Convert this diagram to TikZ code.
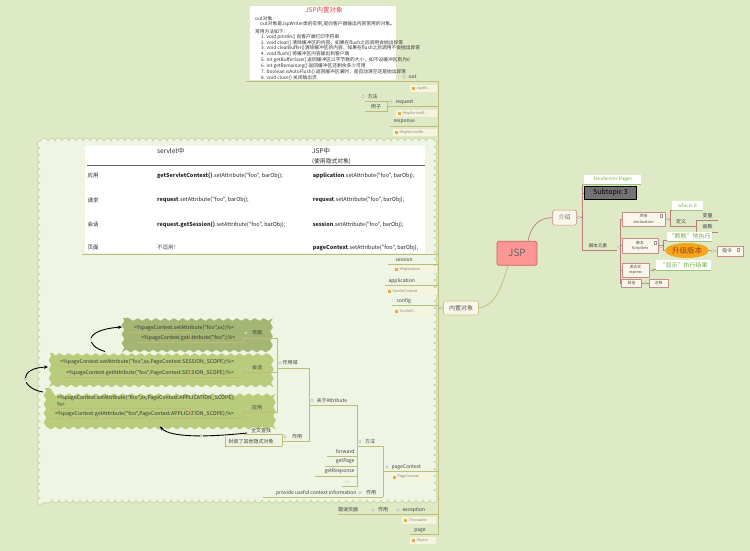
\documentclass[tikz,border=0pt]{standalone}
\usepackage{fontspec}
\setmainfont{Noto Sans CJK SC}[Ligatures=TeXOff]
\newfontfamily\serifx{Liberation Serif}
\usetikzlibrary{decorations.pathmorphing,arrows.meta,shapes.geometric,calc}
\newcommand\fs[1]{\fontsize{#1}{#1}\selectfont}
\definecolor{bg}{RGB}{222,233,198}
\definecolor{cloudfill}{RGB}{238,245,226}
\definecolor{cloudline}{RGB}{200,214,172}
\definecolor{conn}{RGB}{190,188,120}
\definecolor{subfill}{RGB}{245,245,222}
\definecolor{icon}{RGB}{225,175,70}
\definecolor{pinkb}{RGB}{200,140,140}
\definecolor{boxfill}{RGB}{250,246,234}
\definecolor{greenT}{RGB}{110,175,60}
\definecolor{waveA}{RGB}{163,182,115}
\definecolor{waveB}{RGB}{185,204,124}
\definecolor{jspfill}{RGB}{255,150,150}
\definecolor{jspline}{RGB}{205,95,95}
\definecolor{brownc}{RGB}{185,125,120}
\definecolor{orangef}{RGB}{248,165,30}
\definecolor{upgtxt}{RGB}{150,70,20}
\definecolor{redT}{RGB}{230,60,60}
\newcommand\subb[5]{%
 \fill[subfill] (#2,#3) rectangle (#4,#3+7);
 \fill[icon] (#2+1.5,#3+2) rectangle (#2+4.5,#3+5);
 \node[anchor=west,font=\fs{3.6},text=black!50,inner sep=0] (#1) at (#2+6.5,#3+3.5) {#5};}
\newcommand\dotc[2]{\draw[draw=black!35,fill=white,line width=0.3pt] (#1,#2) circle[radius=1.4pt];}
\newcommand\wavebox[5]{\path[fill=#5,decorate,decoration={snake,amplitude=1.3pt,segment length=9pt}] (#1,#2) rectangle (#3,#4);}
\begin{document}
\begin{tikzpicture}[x=1pt,y=-1pt,
 lbl/.style={font=\fs{5},text=black!75,inner sep=0.3pt},
 clbl/.style={font=\fs{5},text=black!75,inner sep=0.3pt},
 cn/.style={draw=conn,line width=0.7pt},
 br/.style={draw=brownc,line width=0.6pt},
 tline/.style={font=\fs{4.75},text=black!80,anchor=west,inner sep=0},
 ttxt/.style={font=\fs{5.5},text=black!85,anchor=west,inner sep=0},
 thd/.style={font=\fs{6.5},text=black!85,anchor=west,inner sep=0},
 wtxt/.style={font=\fs{5.2},text=black!80,anchor=west,inner sep=0},
 pbox/.style={draw=pinkb,fill=boxfill,line width=0.6pt,font=\fontsize{3.8}{5.2}\selectfont,align=center,inner sep=0.3pt,text=black!70},
 gtxt/.style={fill=white,text=greenT,inner sep=0.6pt,font=\fs{6}},
 arr/.style={-{Stealth[length=4pt,width=3.5pt]},line width=0.9pt,black},
 abc/.style={font=\fs{4},text=black!50,inner sep=0.3pt}]
\fill[bg] (0,0) rectangle (750,551);
\useasboundingbox (0,0) rectangle (750,551);

% ---------- top white box ----------
\fill[white] (250,6) rectangle (396,80);
\node[font=\fs{6.5},text=redT,inner sep=0] (title) at (324,10.5) {JSP内置对象};
\node[tline] (o1) at (255,18.3) {out对象：};
\node[tline] (o2) at (260,24.3) {out对象是JspWriter类的实例,是向客户端输出内容常用的对象。};
\node[tline] (o3) at (255,31.7) {常用方法如下：};
\node[tline] (i1) at (261,37.3) {1.\hspace{1.5pt}void println() 向客户端打印字符串};
\node[tline] (i2) at (261,42.7) {2.\hspace{1.5pt}void clear() 清除缓冲区的内容，如果在flush之后调用会抛出异常};
\node[tline] (i3) at (261,48.3) {3.\hspace{1.5pt}void clearBuffer()清除缓冲区的内容，如果在flush之后调用不会抛出异常};
\node[tline] (i4) at (261,54) {4.\hspace{1.5pt}void flush() 将缓冲区内容输出到客户端};
\node[tline] (i5) at (261,60) {5.\hspace{1.5pt}int getBufferSize() 返回缓冲区以字节数的大小，如不设缓冲区则为0};
\node[tline] (i6) at (261,65.7) {6.\hspace{1.5pt}int getRemaining() 返回缓冲区还剩余多少可用};
\node[tline] (i7) at (261,71.7) {7.\hspace{1.5pt}boolean isAutoFlush() 返回缓冲区满时，是自动清空还是抛出异常};
\node[tline] (i8) at (261,77.6) {8.\hspace{1.5pt}void close() 关闭输出流};

% ---------- cloud ----------
\path[fill=cloudfill,draw=cloudline,line width=0.8pt,decorate,decoration={bumps,segment length=14pt,amplitude=3pt,mirror}] (40,141) rectangle (434,500);

% spine
\draw[cn] (246,81) -- (438,81);
\draw[cn] (438,81) -- (438,534.5);

% out
\dotc{404}{76.5}
\node[lbl,anchor=west] (out) at (408,76.5) {out};
\subb{outs}{410}{85}{437}{JspWr...}
% request
\draw[cn] (387,106.5) -- (438,106.5);
\dotc{391}{102}
\node[lbl,anchor=west] (req) at (395,102) {request};
\subb{reqs}{396}{109.5}{437}{HttpServletR...}
\draw[cn] (365,101.8) -- (389.5,101.8);
\draw[cn] (365,111.5) -- (387,111.5) -- (387,101.8);
\node[clbl] (lizi) at (376,106.5) {例子};
\dotc{363}{96.5}
\node[clbl,anchor=west] (ff1) at (367,96.5) {方法};
% response
\draw[cn] (390,126.5) -- (438,126.5);
\node[lbl,anchor=west] (resp) at (393,121.5) {response};
\subb{resps}{393}{129}{437}{HttpServletRe...}

% ---------- table ----------
\fill[white] (85,146) rectangle (425,253);
\draw[cn] (82,254) -- (438,254);
\draw[black!60,line width=0.9pt] (87,165.7) -- (424.5,165.7);
\node[thd] (h1) at (157,151) {servlet中};
\node[thd] (h2) at (312,151) {JSP中};
\node[thd,font=\fs{5.8}] (h3) at (312,161.5) {(使用隐式对象)};
\node[ttxt] (r1) at (87.5,175.5) {应用};
\node[ttxt] (r2) at (87.5,200.4) {请求};
\node[ttxt] (r3) at (87.5,224.6) {会话};
\node[ttxt] (r4) at (87.5,247.5) {页面};
\node[ttxt] (s1) at (157,175.5) {\bfseries getServletContext()\mdseries.setAttribute("foo", barObj);};
\node[ttxt] (s2) at (157,200.4) {\bfseries request\mdseries.setAttribute("foo", barObj);};
\node[ttxt] (s3) at (157,224.6) {\bfseries request.getSession()\mdseries.setAttribute("foo", barObj);};
\node[ttxt,text=black!70] (s4) at (157,247.5) {不适用！};
\node[ttxt] (j1) at (312.6,175.5) {\bfseries application\mdseries.setAttribute("foo", barObj);};
\node[ttxt] (j2) at (312.6,200.4) {\bfseries request\mdseries.setAttribute("foo", barObj);};
\node[ttxt] (j3) at (312.6,224.6) {\bfseries session\mdseries.setAttribute("foo", barObj);};
\node[ttxt] (j4) at (312.6,247.5) {\bfseries pageContext\mdseries.setAttribute("foo", barObj);};

% session / application / config
\draw[cn] (388,264.5) -- (438,264.5);
\node[lbl,anchor=west] (sess) at (395,259.5) {session};
\subb{sesss}{393}{266}{437}{HttpSession}
\draw[cn] (385,285.5) -- (438,285.5);
\node[lbl,anchor=west] (appl) at (388,280.8) {application};
\subb{appls}{386}{287.5}{437}{ServletContext}
\draw[cn] (392,305.5) -- (438,305.5);
\node[lbl,anchor=west] (conf) at (396,301) {config};
\subb{confs}{393}{307.5}{430}{ServletC...}

% ---------- JSP centre ----------
\node[draw=conn!85,fill=boxfill,rounded corners=1.5pt,minimum width=35pt,minimum height=14pt,font=\fs{6},text=black!65,line width=0.6pt] (nzdx) at (461,308) {内置对象};
\draw[cn] (438,308) -- (nzdx.west);
\dotc{441}{308}
\node[draw=jspline,fill=jspfill,rounded corners=2pt,minimum width=40pt,minimum height=24pt,font=\fs{10},text=black!60,line width=0.7pt] (jsp) at (517,253.3) {JSP};
\node[draw=pinkb,fill=boxfill,rounded corners=1.5pt,minimum width=24pt,minimum height=15pt,font=\fs{6},text=black!55,line width=0.6pt] (js) at (564.7,217.6) {介绍};
\draw[cn] (nzdx.east) .. controls (496,306) and (502,285) .. ($(jsp.south)+(-9,0)$);
\draw[br,line width=0.7pt] ($(jsp.north)+(11,0)$) .. controls (531,226) and (538,218) .. (js.west);

% ---------- right subtree ----------
\draw[br] (js.east) -- (582,217.6);
\dotc{579}{217.6}
\draw[br] (582,184.5) -- (582,250) -- (617,250);
\draw[br] (582,193) -- (585,193);
\fill[white] (584,175) rectangle (641,184.5);
\draw[greenT!70,line width=0.6pt] (582,184.5) -- (641,184.5);
\node[text=greenT,font=\serifx\fs{5.5},inner sep=0] (jsp2) at (612.5,179.7) {JavaServer Pages};
\node[fill=black!55,draw=black,line width=0.8pt,minimum width=52pt,minimum height=13pt,font=\fs{7},text=black,inner sep=0] (sub3) at (610.5,192.8) {Subtopic 3};
\node[clbl,font=\fs{4.6}] (jbys) at (598,246) {脚本元素};
\draw[br] (620,219) -- (620,283);
\dotc{619}{247}
\node[pbox,minimum width=43pt,minimum height=14pt] (decl) at (643.5,219) {声明\\declaration};
\node[pbox,minimum width=36pt,minimum height=15pt] (scr) at (640,245.5) {脚本\\Scriptlets};
\node[pbox,minimum width=27pt,minimum height=14pt] (expr) at (635.5,270) {表达式\\express};
\node[pbox,minimum width=20pt,minimum height=8pt] (qt) at (631.5,283) {其他};
\node[pbox,minimum width=19pt,minimum height=8pt] (zs) at (658.5,283) {注释};
\draw[br] (620,219) -- (decl.west);
\draw[br] (620,245.5) -- (scr.west);
\draw[br] (620,270) -- (expr.west);
\draw[br] (620,283) -- (qt.west);
\draw[br] (qt.east) -- (zs.west);
\dotc{645}{283}
\draw[black!40,line width=0.25pt] (660.5,214.5) rectangle (662.5,217.5);
\draw[black!40,line width=0.25pt] (654.5,241) rectangle (656.5,244);
% declaration children
\draw[br] (decl.east) -- (670,219);
\draw[br] (670,210.5) -- (670,226) -- (696,226);
\draw[br] (670,210.5) -- (672,210.5);
\dotc{667}{219}
\node[gtxt,font=\serifx\fs{5.5},minimum width=31pt,minimum height=9pt] (who) at (687.5,205.8) {who is it};
\draw[greenT!70,line width=0.6pt] (672,210.5) -- (703,210.5);
\node[clbl] (dy) at (681,221.5) {定义};
\draw[br] (696,220) -- (696,232);
\draw[br] (696,220) -- (718,220);
\draw[br] (696,232) -- (718,232);
\node[clbl] (bl) at (707.5,215.5) {变量};
\node[clbl] (hs) at (707.5,227) {函数};
% scriptlets children
\draw[br] (scr.east) -- (663,245.5) -- (663,240.5) -- (667,240.5);
\draw[br] (663,245.5) -- (663,250.5) -- (665,250.5);
\dotc{661}{246.5}
\node[gtxt,minimum width=45pt,minimum height=9pt] (mm) at (689.5,236.3) {“默默”地执行};
\draw[greenT!70,line width=0.6pt] (667,240.8) -- (712,240.8);
\node[ellipse,fill=orangef,minimum width=44pt,minimum height=15pt,inner sep=0,font=\fs{7.5},text=upgtxt] (upg) at (687,250.5) {升级版本};
\node[pbox,minimum width=26pt,minimum height=10pt,font=\fs{5}] (zl) at (730,251) {指令\hspace{6pt}};
\draw[black!40,line width=0.25pt] (737.5,248.5) rectangle (739.5,251.5);
\draw[br] (upg.east) -- (zl.west);
\dotc{712.5}{251}
% expression child
\draw[br] (expr.east) -- (653,270) -- (653,269.5) -- (656,269.5);
\dotc{651}{270}
\node[gtxt,minimum width=55pt,minimum height=10pt] (xs) at (683.5,265) {“显示”执行结果};
\draw[greenT!70,line width=0.6pt] (656,270) -- (711,270);

% ---------- wave boxes ----------
\wavebox{123}{318}{274}{349}{waveA}
\wavebox{50}{353}{274}{385}{waveB}
\wavebox{45}{388}{274}{425}{waveB}
\node[wtxt] (p1) at (134,328) {<\%pageContext.setAttribute("foo",xx);\%>};
\node[wtxt] (p2) at (141,338) {<\%pageContext.getAttribute("foo");\%>};
\node[wtxt] (q1) at (60,362.5) {<\%pageContext.setAttribute("foo",xx,PageContext.SESSION\_SCOPE);\%>};
\node[wtxt] (q2) at (66,373) {<\%pageContext.getAttribute("foo",PageContext.SESSION\_SCOPE);\%>};
\node[wtxt] (u1) at (57,398) {<\%pageContext.setAttribute("foo",xx,PageContext.APPLICATION\_SCOPE);};
\node[wtxt] (u2) at (57,404.3) {\%>};
\node[wtxt] (u3) at (55,414) {<\%pageContext.getAttribute("foo",PageContext.APPLICATION\_SCOPE);\%>};
\begin{scope}[cn,line width=0.5pt]
\draw (130,332) -- (190,332) -- (190,342);
\draw (137,342) -- (243,342) -- (243,338) -- (277,338);
\draw (56,366.5) -- (190,366.5) -- (190,377);
\draw (62,377) -- (243,377) -- (243,372) -- (277,372);
\draw (52,408.5) -- (190,408.5) -- (190,418);
\draw (51,418) -- (243,418) -- (243,412.5) -- (277,412.5);
\end{scope}
\dotc{246}{333}
\node[clbl] (ym) at (257,333) {页面};
\dotc{246}{368}
\node[clbl] (hh) at (257,368) {会话};
\dotc{246}{408}
\node[clbl] (yy) at (257,408) {应用};
% arrows
\draw[arr] (105,351.5) .. controls (86,346) and (82,330) .. node[abc,fill=cloudfill,pos=0.45] (cc) {C} (122,327);
\draw[arr] (43,392) .. controls (20,388) and (18,368) .. node[abc,fill=cloudfill,pos=0.45] (bb) {B} (48,367);
\draw[arr] (247,433) .. controls (210,437) and (170,438) .. node[abc,fill=cloudfill,pos=0.42] (aa) {A} (160,426.5);

% ---------- pageContext branch ----------
\draw[cn] (277,338) -- (277,412.5);
\draw[cn] (277,368) -- (309,368);
\dotc{280}{363}
\node[clbl] (zyy) at (290,363) {作用域};
\draw[cn] (309,368) -- (309,441.7);
\dotc{312}{400.5}
\node[lbl,anchor=west] (gy) at (316,400.5) {关于Attribute};
\draw[cn] (309,405) -- (357,405);
\dotc{285}{436.7}
\node[clbl] (zy1) at (297,436.7) {作用};
\draw[cn] (282,441.7) -- (309,441.7);
\node[clbl] (qw) at (261,430.3) {全文查找};
\draw[cn] (244,434.5) -- (282,434.5) -- (282,446);
\node[clbl] (fz) at (251,441.3) {封装了其他隐式对象};
\draw[cn] (225,437) -- (225,446) -- (282,446);
\draw[cn] (357,405) -- (357,486.7);
\dotc{360}{441.7}
\node[clbl] (ff2) at (370,441.7) {方法};
\draw[cn] (357,446) -- (383,446);
\node[lbl,anchor=east] (fw) at (355,451.7) {forward};
\draw[cn] (327,456) -- (357,456);
\node[lbl,anchor=east] (gp) at (355,461.7) {getPage};
\draw[cn] (325,466) -- (357,466);
\node[lbl,anchor=east] (gr) at (355,471.7) {getResponse};
\draw[cn] (315,476.7) -- (357,476.7);
\node[lbl] (dd) at (347,482.5) {...};
\draw[cn] (342,486.7) -- (357,486.7);
\draw[cn] (383,446) -- (383,497);
\dotc{387}{467}
\node[lbl,anchor=west] (pc) at (391,467) {pageContext};
\draw[cn] (383,471) -- (438,471);
\subb{pcs}{391}{473.5}{432}{PageContext}
\dotc{360}{492.7}
\node[clbl] (zy2) at (371,492.7) {作用};
\node[lbl,anchor=east] (pu) at (357,492.7) {provide useful context information};
\draw[cn] (263,497) -- (383,497);

% ---------- bottom ----------
\node[clbl] (cw) at (348,510) {错误页面};
\draw[cn] (338,514) -- (438,514);
\dotc{373}{510}
\node[clbl] (zy3) at (383,510) {作用};
\dotc{398}{510}
\node[lbl,anchor=west] (ex) at (402,510) {exception};
\subb{exs}{402}{517}{436}{Throwable}
\node[lbl] (pg) at (420,531) {page};
\draw[cn] (410,534.5) -- (438,534.5);
\subb{pgs}{410}{537}{436}{Object}
\end{tikzpicture}
\end{document}
